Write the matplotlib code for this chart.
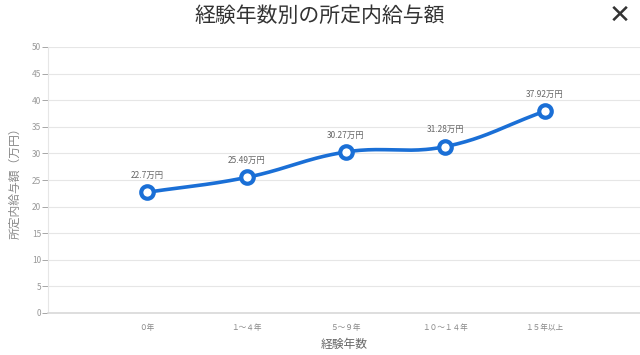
import numpy as np
import matplotlib
matplotlib.use("Agg")
import matplotlib.pyplot as plt

plt.rcParams['font.family'] = ['Noto Sans CJK JP', 'DejaVu Sans']

categories = ["０年", "１～４年", "５～９年", "１０～１４年", "１５年以上"]
values = [22.7, 25.49, 30.27, 31.28, 37.92]
point_labels = ["22.7万円", "25.49万円", "30.27万円", "31.28万円", "37.92万円"]
yticks = [0, 5, 10, 15, 20, 25, 30, 35, 40, 45, 50]

fig = plt.figure(figsize=(6.4, 3.55), dpi=100)
ax = fig.add_axes([48/640, 42/355, 592/640, 266/355])
ax.set_xlim(-1, 4.96)
ax.set_ylim(0, 50)

def spline_path(ax, x, y, tension=0.4, n=40):
    # Chart.js-style bezier spline computed in display space
    pts = ax.transData.transform(np.column_stack([x, y]))
    N = len(pts)
    cps_prev = pts.copy(); cps_next = pts.copy()
    for i in range(N):
        prev = pts[max(i - 1, 0)]; cur = pts[i]; nxt = pts[min(i + 1, N - 1)]
        d01 = np.hypot(*(cur - prev)); d12 = np.hypot(*(nxt - cur))
        s01 = d01 / (d01 + d12) if d01 + d12 else 0
        s12 = d12 / (d01 + d12) if d01 + d12 else 0
        fa = tension * s01; fb = tension * s12
        cps_prev[i] = cur - fa * (nxt - prev)
        cps_next[i] = cur + fb * (nxt - prev)
    out = []
    t = np.linspace(0, 1, n)[:, None]
    for i in range(N - 1):
        p0 = pts[i]; p1 = cps_next[i]; p2 = cps_prev[i + 1]; p3 = pts[i + 1]
        seg = (1-t)**3*p0 + 3*(1-t)**2*t*p1 + 3*(1-t)*t**2*p2 + t**3*p3
        out.append(seg)
    out = np.vstack(out)
    return ax.transData.inverted().transform(out)

xpos = np.arange(len(categories))
curve = spline_path(ax, xpos, values)
color = "#1a6fd6"
ax.plot(curve[:, 0], curve[:, 1], color=color, lw=2.6, zorder=3, solid_capstyle='round')
ax.plot(xpos, values, 'o', ms=9, mfc='white', mec=color, mew=3, zorder=4)
for x, v, lab in zip(xpos, values, point_labels):
    ax.annotate(lab, (x, v), xytext=(0, 9), textcoords='offset points',
                ha='center', va='bottom', fontsize=6, color='#666666')

ax.set_yticks(yticks)
ax.set_xticks(xpos)
ax.set_xticklabels(categories)
ax.grid(axis='y', color='#e6e6e6', lw=0.8)
ax.set_axisbelow(True)
for s in ['top', 'right']:
    ax.spines[s].set_visible(False)
ax.spines['left'].set_color('#e6e6e6')
ax.spines['bottom'].set_color('#d8d8d8')
ax.spines['bottom'].set_linewidth(1.2)
ax.tick_params(axis='y', labelsize=6, colors='#999999', length=4, width=0.6, pad=1)
ax.tick_params(axis='x', labelsize=5.5, colors='#888888', length=0, pad=8)
for lab in ax.get_yticklabels():
    lab.set_color('#999999')
ax.set_xlabel("経験年数", fontsize=8.5, color='#666666', labelpad=4)
ax.set_ylabel("所定内給与額（万円）", fontsize=8.5, color='#888888', labelpad=7)

fig.text(0.5, 0.955, "経験年数別の所定内給与額", ha='center', va='center', fontsize=15, color='#333333')
fig.text(0.969, 0.955, "✕", ha='center', va='center', fontsize=19, color='#333333', family=['DejaVu Sans'])

fig.savefig("out.png", dpi=100)
